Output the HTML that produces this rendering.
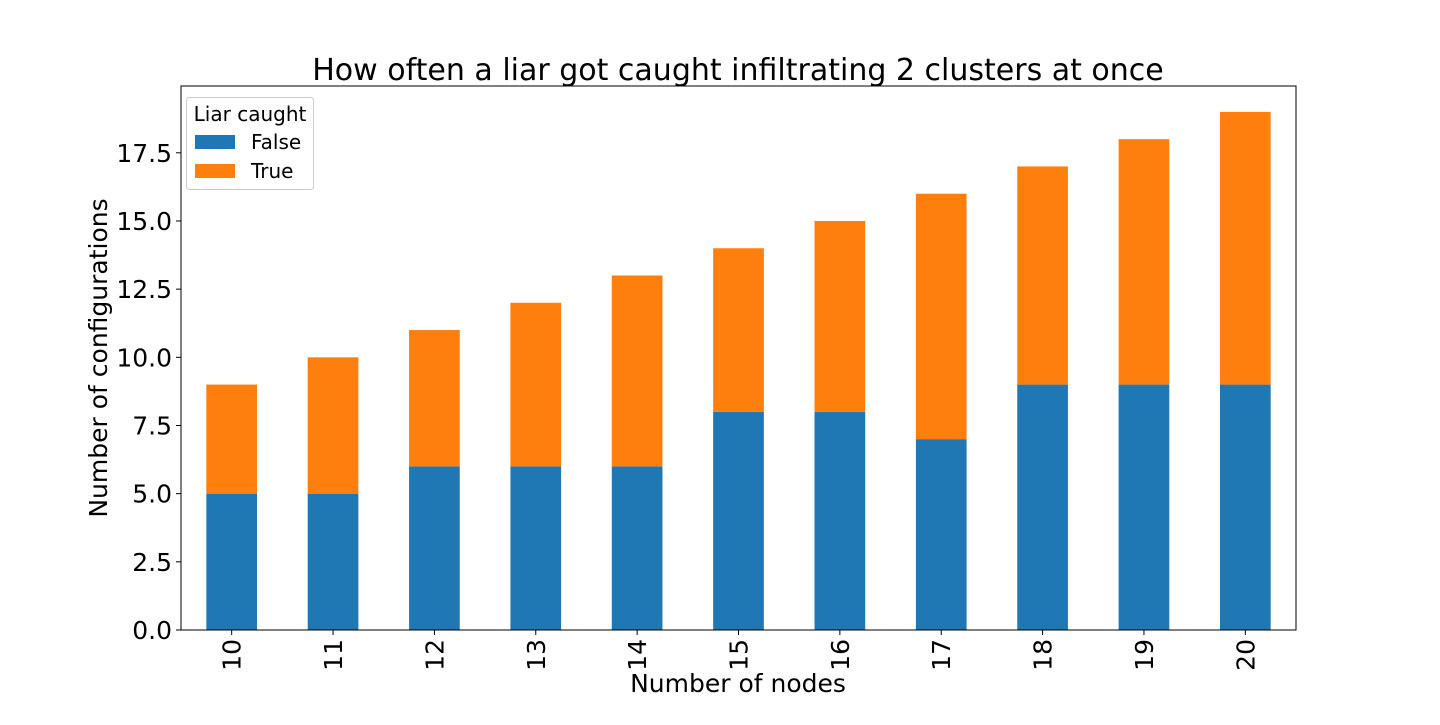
<!DOCTYPE html>
<html><head><meta charset="utf-8"><style>
body{margin:0;background:#fff;}
svg{font-family:"DejaVu Sans","Liberation Sans",sans-serif;}
</style></head><body>
<svg id="chart" width="1440" height="720" xmlns="http://www.w3.org/2000/svg">
<text x="738" y="80" font-size="30" text-anchor="middle">How often a liar got caught infiltrating 2 clusters at once</text>
<g id="bars"></g>
<g id="axes"></g>
<text x="738" y="692" font-size="25" text-anchor="middle">Number of nodes</text>
<text transform="translate(107,358) rotate(-90)" font-size="25" text-anchor="middle">Number of configurations</text>
<g>
<rect x="186.5" y="97.5" width="127" height="92" rx="3" fill="#fff" fill-opacity="0.8" stroke="#ccc"/>
<text x="250" y="121" font-size="20" text-anchor="middle">Liar caught</text>
<rect x="195" y="135" width="40" height="14" fill="#1f77b4"/>
<text x="251" y="149" font-size="20">False</text>
<rect x="195" y="164" width="40" height="14" fill="#ff7f0e"/>
<text x="251" y="178" font-size="20">True</text>
</g>
</svg>
<script>
const categories=["10","11","12","13","14","15","16","17","18","19","20"];
const falseVals=[5,5,6,6,6,8,8,7,9,9,9];
const trueVals=[4,5,5,6,7,6,7,9,8,9,10];
const yTicks=[0,2.5,5,7.5,10,12.5,15,17.5];
const yTickLabels=["0.0","2.5","5.0","7.5","10.0","12.5","15.0","17.5"];
const NS="http://www.w3.org/2000/svg";
const L=181,R=1296,T=86,B=630;
const totals=categories.map((c,i)=>falseVals[i]+trueVals[i]);
const yMax=Math.max(...totals)*1.05;
const n=categories.length;
const xs=i=>L+(i+0.5)*(R-L)/n;
const ys=v=>B-v/yMax*(B-T);
const bw=0.5*(R-L)/n;
const bars=document.getElementById('bars'),axes=document.getElementById('axes');
function mk(tag,attrs,parent){const e=document.createElementNS(NS,tag);for(const k in attrs)e.setAttribute(k,attrs[k]);parent.appendChild(e);return e;}
categories.forEach((c,i)=>{
 const x=xs(i)-bw/2;
 const r1=mk('rect',{x:x,y:ys(falseVals[i]),width:bw,height:ys(0)-ys(falseVals[i]),fill:'#1f77b4'},bars);
 
 
 const r2=mk('rect',{x:x,y:ys(totals[i]),width:bw,height:ys(falseVals[i])-ys(totals[i]),fill:'#ff7f0e'},bars);
 
 
 const tk=mk('line',{x1:xs(i),x2:xs(i),y1:B,y2:B+5,stroke:'#000','stroke-width':1},axes);
 
 
 const t=mk('text',{transform:`translate(${xs(i)+9},${B+9}) rotate(-90)`,'font-size':25,'text-anchor':'end'},axes);
 t.textContent=c;
 
 
});
yTicks.forEach((v,i)=>{
 const tk=mk('line',{x1:L-5,x2:L,y1:ys(v),y2:ys(v),stroke:'#000','stroke-width':1},axes);
 
 
 const t=mk('text',{x:L-9,y:ys(v)+9,'font-size':25,'text-anchor':'end'},axes);
 t.textContent=yTickLabels[i];
 
 
});
const fr=mk('rect',{x:L,y:T,width:R-L,height:B-T,fill:'none',stroke:'#000','stroke-width':1},axes);


</script>
</body></html>
